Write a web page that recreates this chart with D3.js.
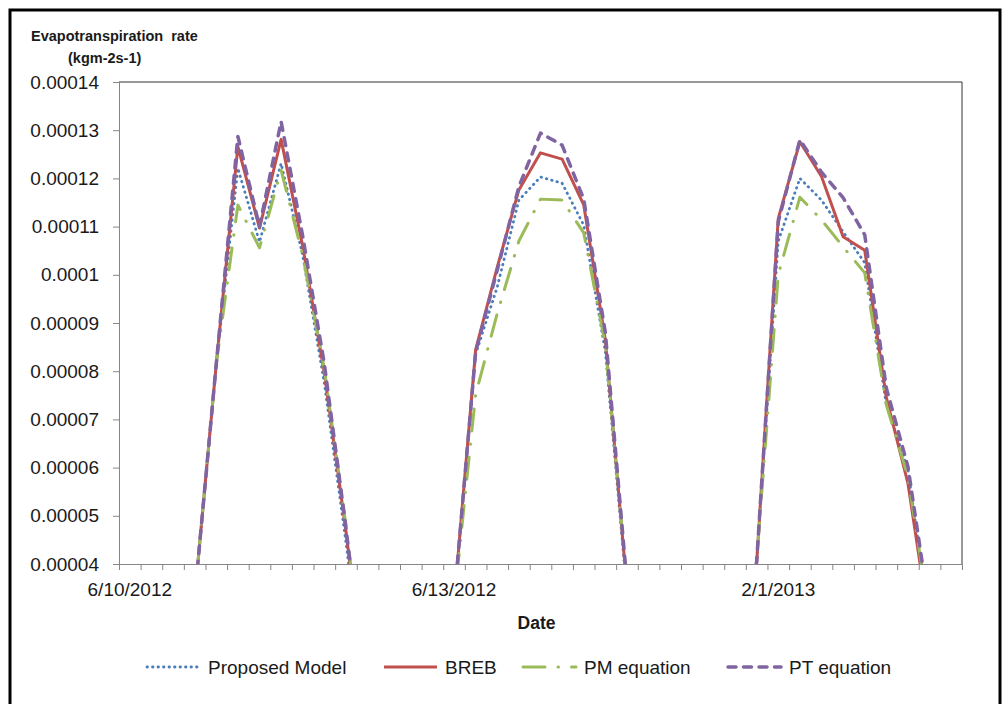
<!DOCTYPE html>
<html lang="en">
<head>
<meta charset="UTF-8">
<title>Evapotranspiration rate</title>
<script src="https://d3js.org/d3.v7.min.js"></script>
<style>
    body { margin: 0; background: #fff; font-family: "Liberation Sans", Arial, sans-serif; }
    svg text { fill: #1a1a1a; }
</style>
</head>
<body>
<div id="chart"></div>
<script>
    // categories: 13 readings per day, three days
    const dayLabels = ["6/10/2012", "6/13/2012", "2/1/2013"];
    const categories = dayLabels.flatMap(d => Array(13).fill(d));
    const labelEvery = 15;

    const yTicks = [0.00004, 0.00005, 0.00006, 0.00007, 0.00008, 0.00009, 0.0001, 0.00011, 0.00012, 0.00013, 0.00014];

    const proposed = [0, 0, 0, 0.000033, 0.0000815, 0.0001221, 0.0001068, 0.0001231, 0.000104, 0.0000775, 0.0000445, 0.000008, 0,
                      0, 0, 0.000032, 0.0000835, 0.0000975, 0.0001155, 0.0001203, 0.000119, 0.0001103, 0.000084, 0.000034, 0, 0,
                      0, 0, 0.00001, 0.0000405, 0.000107, 0.00012, 0.0001155, 0.0001089, 0.0001025, 0.000073, 0.0000595, 0.000028, 0];
    const breb     = [0, 0, 0, 0.000033, 0.0000815, 0.0001266, 0.0001097, 0.0001281, 0.0001059, 0.0000796, 0.0000468, 0.00001, 0,
                      0, 0, 0.0000319, 0.0000845, 0.0001016, 0.0001176, 0.0001253, 0.000124, 0.0001145, 0.0000865, 0.000035, 0, 0,
                      0, 0, 0.00001, 0.0000402, 0.0001117, 0.0001276, 0.0001204, 0.0001079, 0.0001051, 0.0000745, 0.0000567, 0.000027, 0];
    const pmEq     = [0, 0, 0, 0.000033, 0.0000815, 0.0001145, 0.0001056, 0.0001217, 0.000104, 0.0000805, 0.000048, 0.000011, 0,
                      0, 0, 0.000032, 0.0000752, 0.000092, 0.000107, 0.0001157, 0.0001155, 0.0001087, 0.0000855, 0.000036, 0, 0,
                      0, 0, 0.00001, 0.0000408, 0.0001, 0.0001161, 0.0001114, 0.0001058, 0.0001004, 0.000073, 0.0000581, 0.000029, 0];
    const ptEq     = [0, 0, 0, 0.000033, 0.0000815, 0.0001287, 0.00011, 0.0001318, 0.000108, 0.0000815, 0.0000475, 0.00001, 0,
                      0, 0, 0.0000322, 0.000084, 0.000101, 0.0001183, 0.0001294, 0.0001269, 0.0001157, 0.000088, 0.000036, 0, 0,
                      0, 0, 0.00001, 0.0000405, 0.000111, 0.000128, 0.0001213, 0.000116, 0.0001083, 0.0000765, 0.0000602, 0.00003, 0];

    const seriesNames = ["Proposed Model", "BREB", "PM equation", "PT equation"];
    const seriesValues = [proposed, breb, pmEq, ptEq];

    const styles = [
        {color: "#4a7ebb", width: 2.8, dash: "0.5 5", cap: "round"},
        {color: "#c0504d", width: 3, dash: null, cap: "butt"},
        {color: "#9bbb59", width: 3, dash: "22 13 0.5 13", cap: "round"},
        {color: "#8064a2", width: 3.5, dash: "8 7.5", cap: "round"}
    ];

    const W = 1003, H = 704;
    const plot = {left: 119, right: 962, top: 82, bottom: 564};

    const svg = d3.select("#chart").append("svg")
        .attr("width", W)
        .attr("height", H);

    // outer chart border
    svg.append("rect")
        .attr("x", 10).attr("y", 10)
        .attr("width", 990).attr("height", 730)
        .attr("fill", "none")
        .attr("stroke", "#000")
        .attr("stroke-width", 3);

    const x = d3.scaleBand()
        .domain(d3.range(categories.length))
        .range([plot.left, plot.right])
        .padding(0);

    const edge = d3.scaleLinear()
        .domain([0, categories.length])
        .range([plot.left, plot.right]);

    const y = d3.scaleLinear()
        .domain([yTicks[0], yTicks[yTicks.length - 1]])
        .range([plot.bottom, plot.top]);

    // plot area border (top / right)
    svg.append("path")
        .attr("d", `M${plot.left},${plot.top}H${plot.right}V${plot.bottom}`)
        .attr("fill", "none")
        .attr("stroke", "#333")
        .attr("stroke-width", 1);

    // y axis
    const yAxis = svg.append("g")
        .attr("transform", `translate(${plot.left},0)`)
        .call(d3.axisLeft(y)
            .tickValues(yTicks)
            .tickSize(6)
            .tickPadding(14)
            .tickFormat(d => String(+d.toFixed(5))));
    yAxis.select(".domain").attr("stroke", "#868686");
    yAxis.selectAll(".tick line").attr("stroke", "#868686");
    yAxis.selectAll(".tick text")
        .attr("font-family", "Liberation Sans, Arial, sans-serif")
        .attr("font-size", 19)
        .attr("fill", "#1a1a1a");

    // x axis tick marks between categories
    const xTickAxis = svg.append("g")
        .attr("transform", `translate(0,${plot.bottom})`)
        .call(d3.axisBottom(edge)
            .tickValues(d3.range(categories.length + 1))
            .tickSize(6)
            .tickFormat(""));
    xTickAxis.select(".domain").attr("stroke", "#868686");
    xTickAxis.selectAll(".tick line").attr("stroke", "#868686");

    // x axis labels
    const xLabelAxis = svg.append("g")
        .attr("transform", `translate(0,${plot.bottom})`)
        .call(d3.axisBottom(x)
            .tickValues(d3.range(0, categories.length, labelEvery))
            .tickSize(0)
            .tickPadding(19)
            .tickFormat(i => categories[i]));
    xLabelAxis.select(".domain").remove();
    xLabelAxis.selectAll(".tick text")
        .attr("font-family", "Liberation Sans, Arial, sans-serif")
        .attr("font-size", 19)
        .attr("fill", "#1a1a1a");

    // axis titles
    svg.append("text")
        .attr("x", (plot.left + plot.right) / 2 - 4)
        .attr("y", 629)
        .attr("text-anchor", "middle")
        .attr("font-size", 17.5)
        .attr("font-weight", "bold")
        .text("Date");

    svg.append("text")
        .attr("x", 31)
        .attr("y", 41)
        .attr("font-size", 14.5)
        .attr("font-weight", "bold")
        .style("white-space", "pre")
        .text("Evapotranspiration  rate");
    svg.append("text")
        .attr("x", 68)
        .attr("y", 63)
        .attr("font-size", 14.5)
        .attr("font-weight", "bold")
        .text("(kgm-2s-1)");

    // lines, clipped to plot area
    svg.append("clipPath")
        .attr("id", "plotClip")
        .append("rect")
        .attr("x", plot.left)
        .attr("y", plot.top)
        .attr("width", plot.right - plot.left)
        .attr("height", plot.bottom - plot.top);

    const line = d3.line()
        .x((d, i) => x(i) + x.bandwidth() / 2)
        .y(d => y(d));

    const lines = svg.append("g").attr("clip-path", "url(#plotClip)");
    seriesValues.forEach((vals, s) => {
        lines.append("path")
            .datum(vals)
            .attr("fill", "none")
            .attr("stroke", styles[s].color)
            .attr("stroke-width", styles[s].width)
            .attr("stroke-dasharray", styles[s].dash)
            .attr("stroke-linecap", styles[s].cap)
            .attr("stroke-linejoin", "round")
            .attr("d", line);
    });

    // legend
    const legendX = [147, 384, 523, 728];
    const legend = svg.selectAll(".legend-item")
        .data(seriesNames)
        .enter()
        .append("g")
        .attr("class", "legend-item")
        .attr("transform", (d, i) => `translate(${legendX[i]},667)`);

    legend.append("line")
        .attr("x1", 0).attr("x2", 53)
        .attr("y1", 0).attr("y2", 0)
        .attr("stroke", (d, i) => styles[i].color)
        .attr("stroke-width", (d, i) => styles[i].width)
        .attr("stroke-dasharray", (d, i) => styles[i].dash)
        .attr("stroke-linecap", (d, i) => styles[i].cap);

    legend.append("text")
        .attr("x", 61)
        .attr("y", 7)
        .attr("font-size", 19)
        .text(d => d);
</script>
</body>
</html>
